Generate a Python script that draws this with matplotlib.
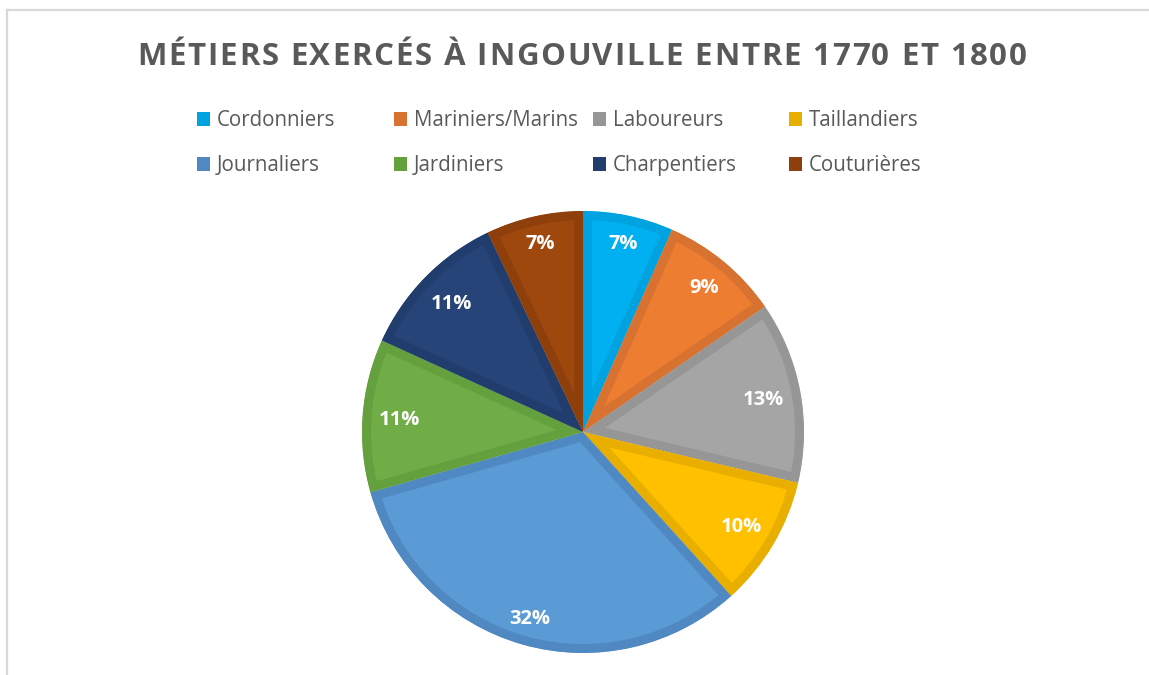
import numpy as np
import matplotlib.pyplot as plt
from matplotlib.lines import Line2D
from matplotlib.patches import Rectangle

# Data (shares, in %)
metiers = ['Cordonniers', 'Mariniers/Marins', 'Laboureurs', 'Taillandiers',
           'Journaliers', 'Jardiniers', 'Charpentiers', 'Couturières']
parts = [6.6, 8.8, 13.3, 9.6, 32.3, 11.2, 11.1, 7.1]
title = 'MÉTIERS EXERCÉS À INGOUVILLE ENTRE 1770 ET 1800'

fills = ['#00B0F0', '#ED7D31', '#A5A5A5', '#FFC000',
         '#5B9BD5', '#70AD47', '#264478', '#9E480E']
edges = ['#00A3DF', '#D87230', '#969696', '#E8AE00',
         '#5089C2', '#65A03F', '#213D6D', '#8E3F0C']

W, H = 1149, 675
fig = plt.figure(figsize=(W / 100, H / 100), dpi=100)
fig.patch.set_facecolor('white')
renderer = fig.canvas.get_renderer()

# chart frame (only top and left edges are visible in the crop)
fig.add_artist(Line2D([7 / W, 1], [1 - 10 / H] * 2, transform=fig.transFigure,
                      color='#D9D9D9', lw=1.6))
fig.add_artist(Line2D([7 / W] * 2, [1 - 10 / H, 0], transform=fig.transFigure,
                      color='#D9D9D9', lw=1.6))

# title with a bit of letter spacing, like the Office chart title
tstyle = dict(fontsize=22.5, fontweight='bold', color='#595959', family='Open Sans')


def text_w(s):
    t = fig.text(0, 0, s, **tstyle)
    w = t.get_window_extent(renderer).width
    t.remove()
    return w


spacing = 1.8
full = text_w(title) + spacing * (len(title) - 1)
x0 = 582 - full / 2
for i, ch in enumerate(title):
    if ch == ' ':
        continue
    xi = x0 + text_w(title[:i + 1]) - text_w(ch) + i * spacing
    fig.text(xi / W, 1 - 65 / H, ch, ha='left', va='baseline', **tstyle)

# legend, 2 rows x 4 columns
col_x = [197, 394, 593, 789]
row_y = [126, 171]
for i, name in enumerate(metiers):
    lx = col_x[i % 4]
    by = row_y[i // 4]
    fig.add_artist(Rectangle((lx / W, 1 - by / H), 13 / W, 14 / H,
                             transform=fig.transFigure, color=edges[i], lw=0))
    fig.text((lx + 20) / W, 1 - by / H, name, ha='left', va='baseline',
             fontsize=14.8, color='#595959', family='Open Sans')

# pie
cx, cy, R = 583, 432, 221
ax = fig.add_axes([(cx - R) / W, 1 - (cy + R) / H, 2 * R / W, 2 * R / H])
wedges, _ = ax.pie(parts, colors=fills, startangle=90, counterclock=False,
                   radius=1, wedgeprops=dict(linewidth=13))
for w, ec in zip(wedges, edges):
    w.set_edgecolor(ec)
    w.set_joinstyle('miter')
    # keep only the inner half of the stroke
    w.set_clip_path(w)
    w.set_clip_on(True)
ax.set_xlim(-1, 1)
ax.set_ylim(-1, 1)
ax.set_aspect('equal')
ax.axis('off')

# percentage labels placed "inside end"
fig.canvas.draw()
total = sum(parts)
pad = 16 / R
for w, v in zip(wedges, parts):
    ang = np.deg2rad((w.theta1 + w.theta2) / 2)
    t = ax.text(0, 0, f'{v / total * 100:.0f}%', ha='center', va='center',
                fontsize=14.5, fontweight='bold', color='white', family='Open Sans')
    bb = t.get_window_extent(renderer)
    hw = bb.width / 2 / R
    hh = bb.height / 2 / R * 0.75
    ext = abs(hw * np.cos(ang)) + abs(hh * np.sin(ang))
    d = 1 - pad - ext
    t.set_position((d * np.cos(ang), d * np.sin(ang) - 2 / R))

fig.savefig('out.png', dpi=100, facecolor='white')
